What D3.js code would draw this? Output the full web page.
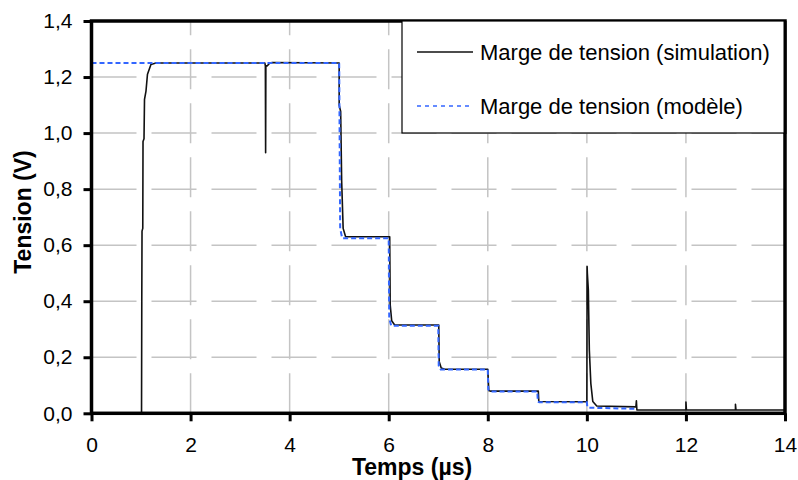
<!DOCTYPE html>
<html>
<head>
<meta charset="utf-8">
<script src="https://cdn.jsdelivr.net/npm/d3@7"></script>
<style>
  body { margin: 0; background: #fff; }
  text { font-family: "Liberation Sans", Arial, sans-serif; fill: #000; }
</style>
</head>
<body>
<svg id="chart"></svg>
<script>
// simulation curve, time in µs / voltage in V
const simT = [0, 1.01, 1.015, 1.02, 1.035, 1.04, 1.06, 1.07, 1.1, 1.13, 1.2, 1.3,
  3.5, 3.51, 3.515, 3.52, 3.55, 3.6, 3.65,
  5.0, 5.0, 5.03, 5.05, 5.08, 5.13,
  6.02, 6.03, 6.06, 6.12,
  7.01, 7.02, 7.06, 7.13,
  8.0, 8.02, 8.06, 9.02, 9.03,
  10.0, 10.005, 10.01, 10.03, 10.05, 10.08, 10.12, 10.2,
  10.99, 11.0, 11.01, 12.0, 12.0, 12.01, 13.0, 13.0, 13.01, 14.0];
const simV = [0, 0, 0.4, 0.65, 0.66, 0.97, 0.98, 1.12, 1.15, 1.21, 1.245, 1.25,
  1.25, 1.24, 0.93, 1.24, 1.24, 1.25, 1.252,
  1.25, 1.10, 1.077, 0.83, 0.66, 0.63,
  0.63, 0.387, 0.33, 0.315,
  0.315, 0.184, 0.162, 0.157,
  0.157, 0.081, 0.079, 0.079, 0.042,
  0.041, 0.524, 0.5, 0.44, 0.226, 0.107, 0.042, 0.026,
  0.023, 0.045, 0.012, 0.012, 0.04, 0.012, 0.012, 0.032, 0.012, 0.012];

// model curve
const modelT = [0, 5.0, 5.02, 5.06, 6.0, 6.01, 6.05, 7.0, 7.01, 7.05,
  8.0, 8.01, 8.04, 9.0, 9.01, 9.04, 10.0, 10.01, 10.04, 11.0];
const modelV = [1.25, 1.25, 0.66, 0.625, 0.625, 0.34, 0.3125, 0.3125, 0.17, 0.156,
  0.156, 0.085, 0.078, 0.078, 0.042, 0.039, 0.039, 0.022, 0.02, 0.016];

const xTicks = [0, 2, 4, 6, 8, 10, 12, 14];
const yTicks = [0, 0.2, 0.4, 0.6, 0.8, 1.0, 1.2, 1.4];
const seriesNames = ["Marge de tension (simulation)", "Marge de tension (modèle)"];
const xTitle = "Temps (µs)";
const yTitle = "Tension (V)";

const width = 798, height = 480;
const plotL = 91.5, plotR = 785, plotT = 21, plotB = 413.3;

const svg = d3.select("#chart").attr("width", width).attr("height", height);

const x = d3.scaleLinear().domain([0, 14]).range([plotL, plotR]);
const y = d3.scaleLinear().domain([0, 1.4]).range([plotB, plotT]);

const fmtY = d => d3.format(".1f")(d).replace(".", ",");

// grid
svg.append("g")
    .selectAll("line")
    .data(yTicks.slice(1, -1))
    .enter().append("line")
    .attr("x1", plotL).attr("x2", plotR)
    .attr("y1", d => y(d)).attr("y2", d => y(d))
    .attr("stroke", "#c4c4c4")
    .attr("stroke-width", 1.5)
    .attr("stroke-dasharray", "45,15");

svg.append("g")
    .selectAll("line")
    .data(xTicks.slice(1, -1))
    .enter().append("line")
    .attr("x1", d => x(d)).attr("x2", d => x(d))
    .attr("y1", plotB).attr("y2", plotT)
    .attr("stroke", "#c4c4c4")
    .attr("stroke-width", 1.5)
    .attr("stroke-dasharray", "40,14");

const line = d3.line()
    .x(d => x(d[0]))
    .y(d => y(d[1]));

const simData = simT.map((t, i) => [t, simV[i]]);
const modelData = modelT.map((t, i) => [t, modelV[i]]);

svg.append("path")
    .datum(simData)
    .attr("d", line)
    .attr("fill", "none")
    .attr("stroke", "#111")
    .attr("stroke-width", 1.6)
    .attr("stroke-linejoin", "round");

svg.append("path")
    .datum(modelData)
    .attr("d", line)
    .attr("fill", "none")
    .attr("stroke", "#3366ff")
    .attr("stroke-width", 2)
    .attr("stroke-dasharray", "5,3");

// axes
const xAxis = svg.append("g")
    .attr("transform", `translate(0,${plotB})`)
    .call(d3.axisBottom(x).tickValues(xTicks).tickFormat(d3.format("d"))
        .tickSizeInner(8).tickSizeOuter(0).tickPadding(16));

const yAxis = svg.append("g")
    .attr("transform", `translate(${plotL},0)`)
    .call(d3.axisLeft(y).tickValues(yTicks).tickFormat(fmtY)
        .tickSizeInner(8).tickSizeOuter(0).tickPadding(11));

[xAxis, yAxis].forEach(a => {
    a.select(".domain").remove();
    a.selectAll(".tick line").attr("stroke", "#000").attr("stroke-width", 3);
    a.selectAll(".tick text")
        .attr("font-family", "Liberation Sans, Arial, sans-serif")
        .attr("font-size", 21)
        .attr("fill", "#000");
});

// plot frame
svg.append("rect")
    .attr("x", plotL).attr("y", plotT)
    .attr("width", plotR - plotL).attr("height", plotB - plotT)
    .attr("fill", "none")
    .attr("stroke", "#000")
    .attr("stroke-width", 3.5);

// titles
svg.append("text")
    .attr("x", 412).attr("y", 475)
    .attr("text-anchor", "middle")
    .attr("font-size", 23)
    .attr("font-weight", "bold")
    .text(xTitle);

svg.append("text")
    .attr("transform", "translate(31,212) rotate(-90)")
    .attr("text-anchor", "middle")
    .attr("font-size", 23)
    .attr("font-weight", "bold")
    .text(yTitle);

// legend
const lg = svg.append("g");
lg.append("rect")
    .attr("x", 402).attr("y", 21)
    .attr("width", 383).attr("height", 112)
    .attr("fill", "#fff")
    .attr("stroke", "#000")
    .attr("stroke-width", 1.2);
lg.append("line")
    .attr("x1", 785).attr("x2", 785).attr("y1", 21).attr("y2", 134)
    .attr("stroke", "#000").attr("stroke-width", 3);

const legendStyles = [
    { stroke: "#111", dash: null, w: 1.6 },
    { stroke: "#3366ff", dash: "4,4", w: 1.6 }
];
seriesNames.forEach((name, i) => {
    const yy = 52 + i * 54;
    lg.append("line")
        .attr("x1", 417).attr("x2", 473)
        .attr("y1", yy).attr("y2", yy)
        .attr("stroke", legendStyles[i].stroke)
        .attr("stroke-width", legendStyles[i].w)
        .attr("stroke-dasharray", legendStyles[i].dash);
    lg.append("text")
        .attr("x", 480).attr("y", yy + 8)
        .attr("font-size", 22)
        .text(name);
});
</script>
</body>
</html>
